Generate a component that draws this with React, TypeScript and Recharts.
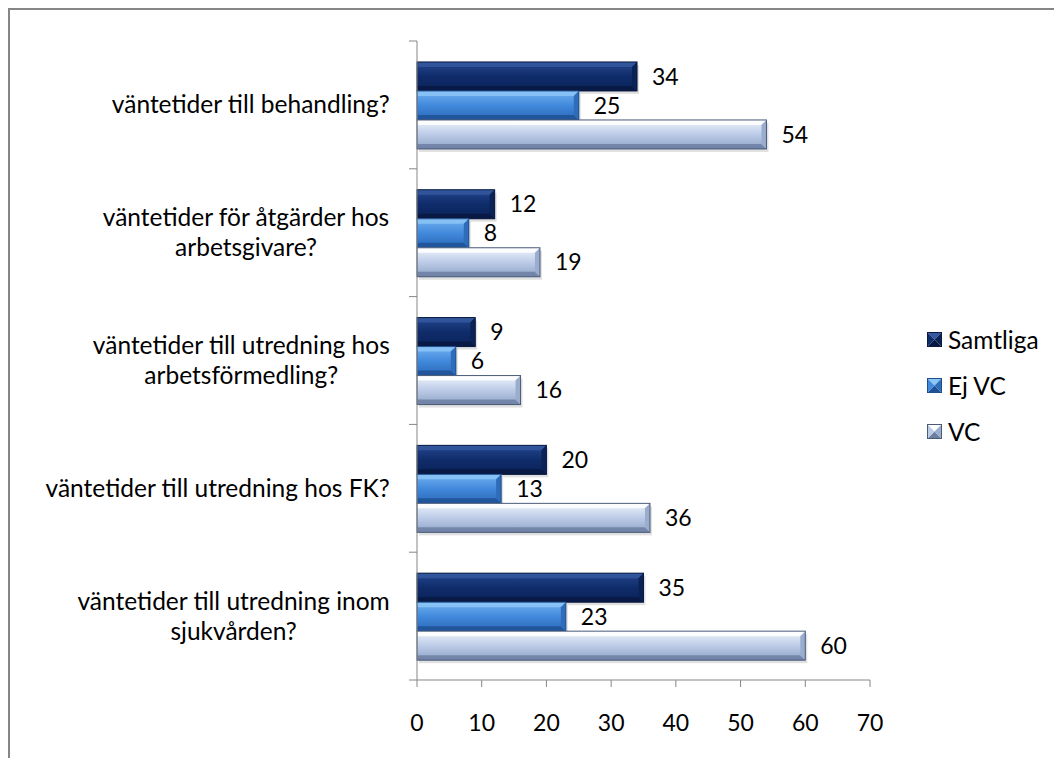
import { BarChart, Bar, XAxis, YAxis, Legend, LabelList } from "recharts"

const categories = [
  "väntetider till behandling?",
  "väntetider för åtgärder hos arbetsgivare?",
  "väntetider till utredning hos arbetsförmedling?",
  "väntetider till utredning hos FK?",
  "väntetider till utredning inom sjukvården?",
]

// how each category label wraps on the axis
const categoryLines = [
  ["väntetider till behandling?"],
  ["väntetider för åtgärder hos", "arbetsgivare?"],
  ["väntetider till utredning hos", "arbetsförmedling?"],
  ["väntetider till utredning hos FK?"],
  ["väntetider till utredning inom", "sjukvården?"],
]

const samtliga = [34, 12, 9, 20, 35]
const ejVc = [25, 8, 6, 13, 23]
const vc = [54, 19, 16, 36, 60]

const xTicks = [0, 10, 20, 30, 40, 50, 60, 70]
const seriesKeys = ["samtliga", "ejVc", "vc"]
const seriesNames = ["Samtliga", "Ej VC", "VC"]

const data = categories.map((name, i) => ({
  name,
  samtliga: samtliga[i],
  ejVc: ejVc[i],
  vc: vc[i],
}))

const FONT = "Lato, 'Noto Sans', sans-serif"
const AXIS = "#868686"
const CAT_SIZE = 24.5
const NUM_SIZE = 23
const TICK = 8

type Pal = { id: string; stops: string[]; top: string; bottom: string; side: string; edge: string }

const palettes: Record<string, Pal> = {
  samtliga: {
    id: "g-samtliga",
    stops: ["#25468e", "#0f2c6a", "#0a225a"],
    top: "#34589f",
    bottom: "#071840",
    side: "#0b2257",
    edge: "#0a1a40",
  },
  ejVc: {
    id: "g-ejvc",
    stops: ["#72b1f0", "#4189dc", "#2b68b8"],
    top: "#8cc6f7",
    bottom: "#1f5196",
    side: "#2f6cb9",
    edge: "#1f4e8c",
  },
  vc: {
    id: "g-vc",
    stops: ["#eef4fd", "#bccbe7", "#90a4c7"],
    top: "#ffffff",
    bottom: "#6c7fa3",
    side: "#9aadce",
    edge: "#4a5a78",
  },
}

let ctx: CanvasRenderingContext2D | null = null
function textWidth(s: string) {
  if (!ctx) ctx = document.createElement("canvas").getContext("2d")
  if (!ctx) return s.length * 11
  ctx.font = `${CAT_SIZE}px Lato`
  return ctx.measureText(s).width
}

function bevelShape(pal: Pal) {
  return (p: any) => {
    const { x, y, width: w, height: h } = p
    if (!w || w <= 0) return <g />
    const b = Math.min(5, h / 4, w / 2)
    return (
      <g>
        <rect x={x + 2} y={y + 3} width={w} height={h} fill="#000" opacity={0.12} />
        <rect x={x} y={y} width={w} height={h} fill={`url(#${pal.id})`} />
        <polygon points={`${x},${y} ${x + w},${y} ${x + w - b},${y + b} ${x},${y + b}`} fill={pal.top} opacity={0.85} />
        <polygon
          points={`${x},${y + h} ${x + w},${y + h} ${x + w - b},${y + h - b} ${x},${y + h - b}`}
          fill={pal.bottom}
          opacity={0.85}
        />
        <polygon
          points={`${x + w},${y} ${x + w},${y + h} ${x + w - b},${y + h - b} ${x + w - b},${y + b}`}
          fill={pal.side}
        />
        <rect x={x} y={y} width={w} height={h} fill="none" stroke={pal.edge} strokeWidth={1} />
      </g>
    )
  }
}

function CategoryTick(props: any) {
  const { x, y, payload } = props
  const i = categories.indexOf(payload.value)
  const lines = categoryLines[i] ?? [String(payload.value)]
  const half = payload.offset || 63.9
  const axisX = x + TICK
  const right = axisX - 27
  const widest = Math.max(...lines.map(textWidth))
  const cx = right - widest / 2
  const lh = 30
  const y0 = y - ((lines.length - 1) * lh) / 2
  return (
    <g>
      <line x1={axisX - TICK} x2={axisX} y1={y - half} y2={y - half} stroke={AXIS} />
      {i === categories.length - 1 && (
        <line x1={axisX - TICK} x2={axisX} y1={y + half} y2={y + half} stroke={AXIS} />
      )}
      <text textAnchor="middle" fontFamily={FONT} fontSize={CAT_SIZE} fill="#000">
        {lines.map((l, k) => (
          <tspan key={k} x={cx} y={y0 + k * lh} dy="0.35em">
            {l}
          </tspan>
        ))}
      </text>
    </g>
  )
}

function LegendSquare({ pal }: { pal: Pal }) {
  const s = 15
  return (
    <svg width={s} height={s} style={{ marginRight: 6, display: "block" }}>
      <polygon points={`0,0 ${s},0 ${s / 2},${s / 2}`} fill={pal.top} />
      <polygon points={`0,${s} ${s},${s} ${s / 2},${s / 2}`} fill={pal.bottom} />
      <polygon points={`0,0 0,${s} ${s / 2},${s / 2}`} fill={pal.stops[1]} />
      <polygon points={`${s},0 ${s},${s} ${s / 2},${s / 2}`} fill={pal.side} />
      <rect x={0.5} y={0.5} width={s - 1} height={s - 1} fill="none" stroke={pal.edge} />
    </svg>
  )
}

function LegendContent() {
  return (
    <div style={{ paddingLeft: 57, paddingTop: 2, fontFamily: FONT, fontSize: CAT_SIZE, color: "#000" }}>
      {seriesNames.map((n, i) => (
        <div key={n} style={{ display: "flex", alignItems: "center", height: 46 }}>
          <LegendSquare pal={palettes[seriesKeys[i]]} />
          <span>{n}</span>
        </div>
      ))}
    </div>
  )
}

export default function App() {
  return (
    <div
      style={{
        position: "fixed",
        top: 8,
        left: 8,
        width: 1044,
        height: 748,
        borderTop: `2px solid ${AXIS}`,
        borderLeft: `2px solid ${AXIS}`,
        background: "#fff",
      }}
    >
      <BarChart
        width={1044}
        height={748}
        data={data}
        layout="vertical"
        margin={{ top: 31, right: 4, left: 0, bottom: 22 }}
        barCategoryGap="16.4%"
        barGap={0}
      >
        <defs>
          {seriesKeys.map((k) => (
            <linearGradient key={k} id={palettes[k].id} x1="0" y1="0" x2="0" y2="1">
              <stop offset="0%" stopColor={palettes[k].stops[0]} />
              <stop offset="50%" stopColor={palettes[k].stops[1]} />
              <stop offset="100%" stopColor={palettes[k].stops[2]} />
            </linearGradient>
          ))}
        </defs>
        <XAxis
          type="number"
          domain={[0, 70]}
          ticks={xTicks}
          interval={0}
          height={56}
          stroke={AXIS}
          tickSize={7}
          tickMargin={28}
          tick={{ fill: "#000", fontSize: NUM_SIZE, fontFamily: FONT }}
        />
        <YAxis
          type="category"
          dataKey="name"
          width={407}
          stroke={AXIS}
          tickLine={false}
          tickSize={TICK}
          tickMargin={0}
          interval={0}
          tick={<CategoryTick />}
        />
        <Legend
          layout="vertical"
          align="right"
          verticalAlign="middle"
          wrapperStyle={{ width: 180 }}
          content={<LegendContent />}
        />
        {seriesKeys.map((k, i) => (
          <Bar
            key={k}
            dataKey={k}
            name={seriesNames[i]}
            fill={palettes[k].stops[1]}
            shape={bevelShape(palettes[k])}
            isAnimationActive={false}
          >
            <LabelList
              dataKey={k}
              position="right"
              offset={15}
              fill="#000"
              fontSize={NUM_SIZE}
              fontFamily={FONT}
            />
          </Bar>
        ))}
      </BarChart>
    </div>
  )
}
